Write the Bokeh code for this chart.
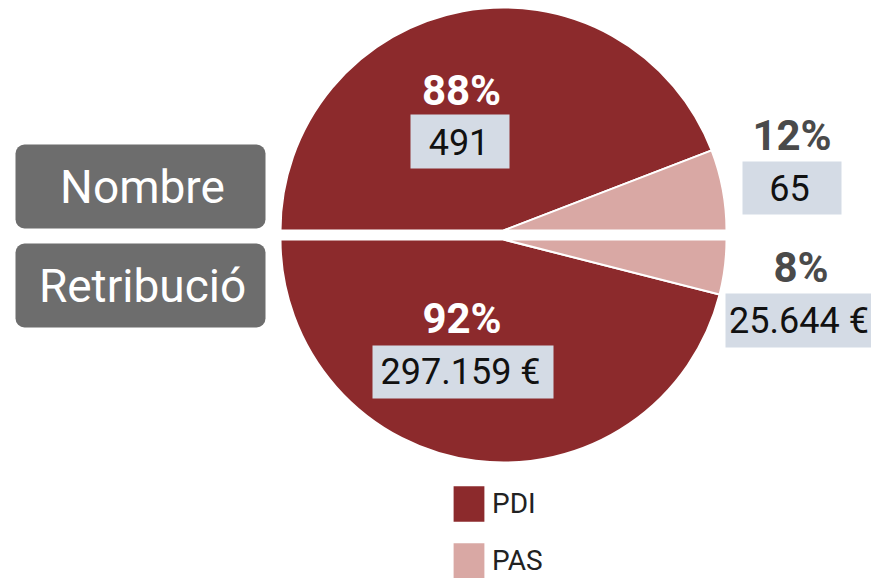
import math
from bokeh.plotting import figure
from bokeh.models import ColumnDataSource, Range1d, BoxAnnotation, Legend, LegendItem
from bokeh.embed import file_html
from bokeh.resources import INLINE
from bokeh.core.properties import value

# ---- data ----
categories = ["PDI", "PAS"]
nombre_values = [491, 65]
retribucio_values = [297159, 25644]
nombre_pct = ["88%", "12%"]
retribucio_pct = ["92%", "8%"]
nombre_labels = ["491", "65"]
retribucio_labels = ["297.159 €", "25.644 €"]
group_labels = ["Nombre", "Retribució"]

# ---- styles / layout ----
colors = ["#8c2a2c", "#d9a8a4"]
FONT = "Roboto"
W, H = 871, 578
CX = 503
TOP_CY, BOT_CY = 348, 339
R = 223

p = figure(width=W, height=H, x_range=Range1d(0, W), y_range=Range1d(0, H),
           x_axis_type=None, y_axis_type=None, toolbar_location=None,
           output_backend="svg", min_border=0, outline_line_color=None)
p.grid.visible = False

# wedges
tot_n = sum(nombre_values)
tot_r = sum(retribucio_values)
pas_n = nombre_values[1] / tot_n * math.pi
pdi_r = retribucio_values[0] / tot_r * math.pi
src = ColumnDataSource(dict(
    x=[CX, CX, CX, CX],
    y=[TOP_CY, TOP_CY, BOT_CY, BOT_CY],
    start=[pas_n, 0, math.pi, math.pi + pdi_r],
    end=[math.pi, pas_n, math.pi + pdi_r, 2 * math.pi],
    color=[colors[0], colors[1], colors[0], colors[1]],
))
r = p.wedge(x="x", y="y", radius=R, start_angle="start", end_angle="end",
            fill_color="color", line_color="white", line_width=2, source=src)

# group label boxes
for bottom, top in [(350, 434), (251, 335)]:
    p.add_layout(BoxAnnotation(left=15, right=265, bottom=bottom, top=top,
                               fill_color="#6d6d6d", fill_alpha=1,
                               line_color=None, border_radius=9,
                               level="underlay"))
p.text(x=[142, 142], y=[392, 293], text=group_labels, text_color="white",
       text_font=value(FONT), text_font_size="46px", text_align="center",
       text_baseline="middle")

# value boxes
bx = [459.5, 791.5, 462.5, 799]
by = [437, 390.5, 206.5, 258]
bw = [99, 99, 181, 148]
bh = [54, 53, 53, 54]
p.rect(x=bx, y=by, width=bw, height=bh, fill_color="#d4dbe5", line_color=None)
p.text(x=[458.5, 789, 460, 798.5], y=by,
       text=[nombre_labels[0], nombre_labels[1], retribucio_labels[0], retribucio_labels[1]],
       text_color="#111111", text_font=value(FONT), text_font_size="36px",
       text_align="center", text_baseline="middle")

# percentages
px = [461, 791.5, 461.5, 800.5]
py = [488, 443, 260.5, 311.5]
p.text(x=px, y=py,
       text=[nombre_pct[0], nombre_pct[1], retribucio_pct[0], retribucio_pct[1]],
       text_color=["white", "#4a4a4a", "white", "#4a4a4a"],
       text_font=value(FONT), text_font_style="bold", text_font_size="42px",
       text_align="center", text_baseline="middle")

leg = Legend(items=[LegendItem(label=categories[0], renderers=[r], index=0),
                    LegendItem(label=categories[1], renderers=[r], index=1)],
             location=(448, -6), padding=0, margin=0, spacing=10,
             glyph_width=41, glyph_height=47, label_height=47,
             label_standoff=3, label_text_font=FONT,
             label_text_font_size="28px", label_text_color="#222222",
             border_line_color=None, background_fill_alpha=0)
p.add_layout(leg)

open("out.html", "w").write(file_html(p, INLINE))
